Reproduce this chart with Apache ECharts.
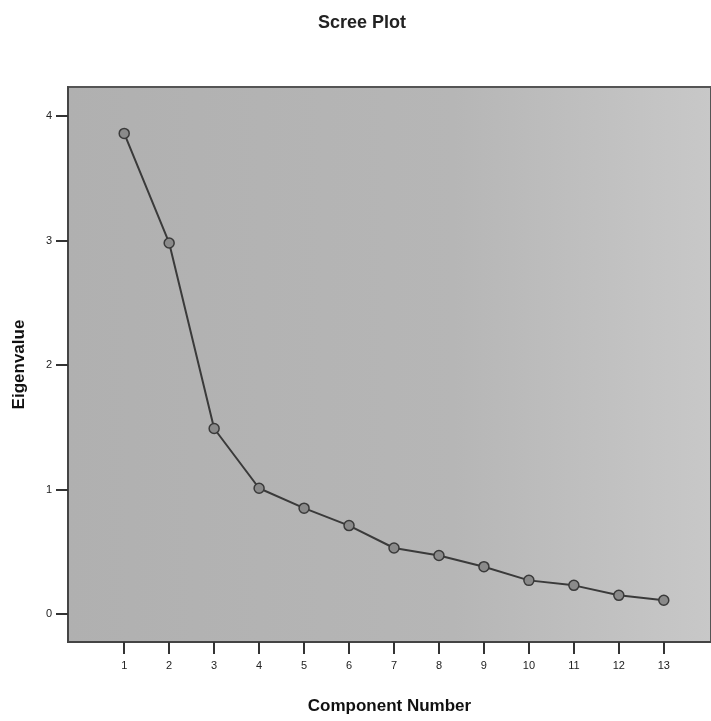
<!DOCTYPE html>
<html>
<head>
<meta charset="utf-8">
<script src="https://cdn.jsdelivr.net/npm/echarts@6/dist/echarts.min.js"></script>
<style>
  html, body { margin: 0; padding: 0; background: #fff; }
  #chart { width: 711px; height: 721px; }
</style>
</head>
<body>
<div id="chart"></div>
<script>
// scree plot data
const components = [1, 2, 3, 4, 5, 6, 7, 8, 9, 10, 11, 12, 13];
const eigenvalues = [3.86, 2.98, 1.49, 1.01, 0.85, 0.71, 0.53, 0.47, 0.38, 0.27, 0.23, 0.15, 0.11];
const yTicks = [0, 1, 2, 3, 4];

const chart = echarts.init(document.getElementById('chart'));
const font = 'Liberation Sans, Arial, sans-serif';

chart.setOption({
  animation: false,
  backgroundColor: '#fff',
  title: {
    text: 'Scree Plot',
    left: 313,
    top: 9,
    textStyle: { fontFamily: font, fontSize: 18, fontWeight: 'bold', color: '#222' }
  },
  grid: {
    left: 68, right: 0, top: 87, bottom: 79,
    show: true,
    backgroundColor: {
      type: 'linear', x: 0, y: 0, x2: 1, y2: 0,
      colorStops: [
        { offset: 0, color: '#b0b0b0' },
        { offset: 0.6, color: '#b6b6b6' },
        { offset: 1, color: '#c8c8c8' }
      ]
    },
    borderColor: '#555',
    borderWidth: 2
  },
  xAxis: {
    type: 'value',
    min: -0.25,
    max: 14.05,
    name: 'Component Number',
    nameLocation: 'middle',
    nameGap: 56,
    nameTextStyle: { fontFamily: font, fontSize: 17, fontWeight: 'bold', color: '#111' },
    axisLine: { show: true, onZero: false, lineStyle: { color: '#444', width: 2 } },
    axisTick: { show: true, inside: false, customValues: components, length: 12, lineStyle: { color: '#333', width: 2 } },
    axisLabel: { customValues: components, margin: 18, fontFamily: font, fontSize: 11, color: '#222' },
    splitLine: { show: false }
  },
  yAxis: {
    type: 'value',
    min: -0.225,
    max: 4.233,
    name: 'Eigenvalue',
    nameLocation: 'middle',
    nameGap: 40,
    nameTextStyle: { fontFamily: font, fontSize: 17, fontWeight: 'bold', color: '#111' },
    axisLine: { show: true, onZero: false, lineStyle: { color: '#444', width: 2 } },
    axisTick: { show: true, inside: false, customValues: yTicks, length: 12, lineStyle: { color: '#333', width: 2 } },
    axisLabel: { customValues: yTicks, margin: 16, fontFamily: font, fontSize: 11, color: '#222' },
    splitLine: { show: false }
  },
  series: [{
    type: 'line',
    data: components.map((c, i) => [c, eigenvalues[i]]),
    symbol: 'circle',
    symbolSize: 10,
    lineStyle: { color: '#3a3a3a', width: 2 },
    itemStyle: { color: '#8a8a8a', borderColor: '#3a3a3a', borderWidth: 1.5 }
  }]
});
</script>
</body>
</html>
